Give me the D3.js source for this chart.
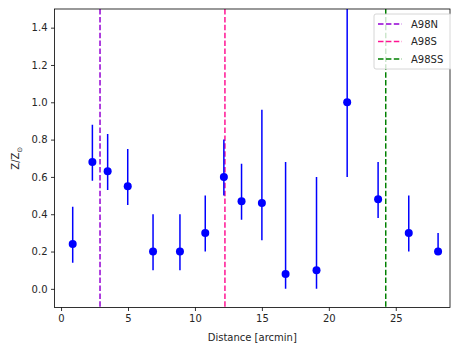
<!DOCTYPE html>
<meta charset="utf-8">
<html>
<head>
<script src="https://d3js.org/d3.v7.min.js"></script>
<style>
  body { margin: 0; background: #fff; }
  text { font-family: "DejaVu Sans", sans-serif; fill: #262626; }
</style>
</head>
<body>
<svg width="451" height="347"></svg>
<script>
// measurements
var dist  = [0.87, 2.34, 3.48, 4.98, 6.87, 8.88, 10.77, 12.16, 13.48, 15.0, 16.77, 19.08, 21.37, 23.68, 25.97, 28.16];
var metal = [0.24, 0.68, 0.63, 0.55, 0.20, 0.20, 0.30, 0.60, 0.47, 0.46, 0.08, 0.10, 1.00, 0.48, 0.30, 0.20];
var errLo = [0.10, 0.10, 0.10, 0.10, 0.10, 0.10, 0.10, 0.10, 0.10, 0.20, 0.08, 0.10, 0.40, 0.10, 0.10, 0.00];
var errHi = [0.20, 0.20, 0.20, 0.20, 0.20, 0.20, 0.20, 0.20, 0.20, 0.50, 0.60, 0.50, 0.60, 0.20, 0.20, 0.10];

// region boundaries
var regions = ["A98N", "A98S", "A98SS"];
var regionX = [2.91, 12.24, 24.25];
var regionColor = ["#9400d3", "#ff1493", "#008000"];

var xTicks = [0, 5, 10, 15, 20, 25];
var yTicks = [0.0, 0.2, 0.4, 0.6, 0.8, 1.0, 1.2, 1.4];

var svg = d3.select("svg"),
    margin = {left: 54.5, right: 1, top: 9, bottom: 39.5},
    width = 451 - margin.left - margin.right,
    height = 347 - margin.top - margin.bottom;

var g = svg.append("g").attr("transform", "translate(" + margin.left + "," + margin.top + ")");

var x = d3.scaleLinear().domain([-0.49, 29.05]).range([0, width]);
var y = d3.scaleLinear().domain([-0.1, 1.5]).range([height, 0]);

g.append("defs").append("clipPath").attr("id", "clip")
  .append("rect").attr("width", width).attr("height", height);

var plot = g.append("g").attr("clip-path", "url(#clip)");

// vertical dashed lines
plot.selectAll(".vline").data(regionX).enter().append("line")
    .attr("x1", function(d) { return x(d); })
    .attr("x2", function(d) { return x(d); })
    .attr("y1", 0).attr("y2", height)
    .attr("stroke", function(d, i) { return regionColor[i]; })
    .attr("stroke-width", 1.5)
    .attr("stroke-dasharray", "5.5,2.4");

// error bars
var idx = d3.range(dist.length);
plot.selectAll(".err").data(idx).enter().append("line")
    .attr("x1", function(i) { return x(dist[i]); })
    .attr("x2", function(i) { return x(dist[i]); })
    .attr("y1", function(i) { return y(metal[i] - errLo[i]); })
    .attr("y2", function(i) { return y(metal[i] + errHi[i]); })
    .attr("stroke", "#0000ff")
    .attr("stroke-width", 1.5);

plot.selectAll(".pt").data(idx).enter().append("circle")
    .attr("cx", function(i) { return x(dist[i]); })
    .attr("cy", function(i) { return y(metal[i]); })
    .attr("r", 4)
    .attr("fill", "#0000ff");

// axes
var xAxis = g.append("g").attr("transform", "translate(0," + height + ")")
    .call(d3.axisBottom(x).tickValues(xTicks).tickSize(3.5).tickPadding(3.5));
var yAxis = g.append("g")
    .call(d3.axisLeft(y).tickValues(yTicks).tickFormat(d3.format(".1f")).tickSize(3.5).tickPadding(3.5));
[xAxis, yAxis].forEach(function(a) {
  a.select(".domain").remove();
  a.selectAll("line").attr("stroke", "#000").attr("stroke-width", 0.8);
  a.selectAll("text").style("font-size", "10px").attr("fill", "#262626");
});

g.append("rect").attr("width", width).attr("height", height)
    .attr("fill", "none").attr("stroke", "#000").attr("stroke-width", 0.8);

// labels
g.append("text").attr("x", width / 2).attr("y", height + 33)
    .attr("text-anchor", "middle").style("font-size", "10px")
    .text("Distance [arcmin]");

var yl = svg.append("text")
    .attr("transform", "translate(19," + (margin.top + y(0.7)) + ") rotate(-90)")
    .attr("text-anchor", "middle").style("font-size", "10px");
yl.append("tspan").text("Z/Z");
yl.append("tspan").attr("dy", 2.5).style("font-size", "7px").text("\u2299");

// legend
var leg = g.append("g").attr("transform", "translate(" + (374 - margin.left) + "," + (14 - margin.top) + ")");
leg.append("rect").attr("width", 80).attr("height", 55).attr("rx", 2)
    .attr("fill", "#fff").attr("fill-opacity", 0.8)
    .attr("stroke", "#cccccc").attr("stroke-width", 0.8);
var item = leg.selectAll(".item").data(regions).enter().append("g")
    .attr("transform", function(d, i) { return "translate(0," + (10 + i * 17.5) + ")"; });
item.append("line").attr("x1", 4).attr("x2", 28)
    .attr("stroke", function(d, i) { return regionColor[i]; })
    .attr("stroke-width", 1.5).attr("stroke-dasharray", "5.5,2.4");
item.append("text").attr("x", 37).attr("dy", "0.35em").style("font-size", "10px")
    .text(function(d) { return d; });
</script>
</body>
</html>
